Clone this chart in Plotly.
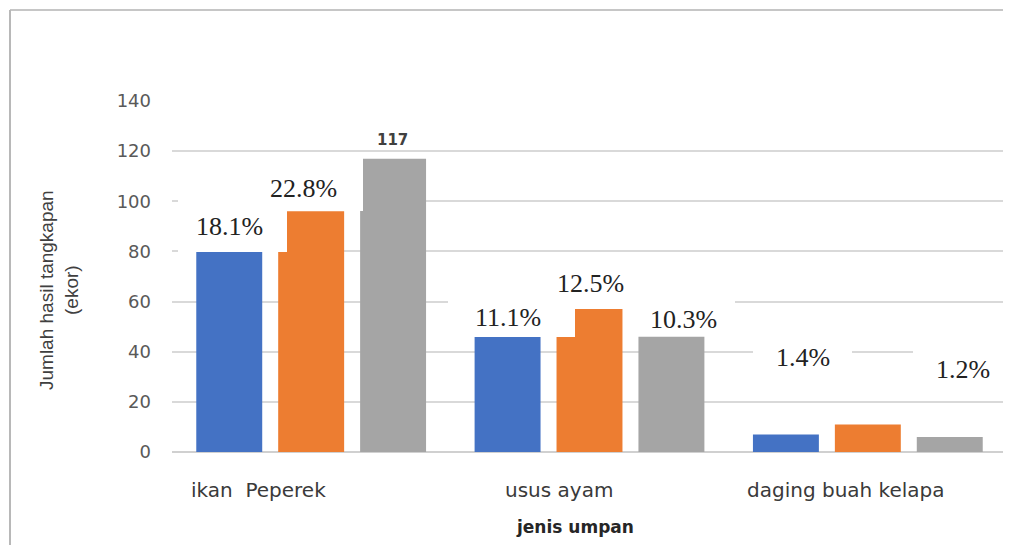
import plotly.graph_objects as go

# ---------------- data ----------------
categories = ["ikan\u00a0 Peperek", "usus ayam", "daging buah kelapa"]
blue_values = [80, 46, 7]
orange_values = [96, 57, 11]
gray_values = [117, 46, 6]
blue_labels = ["18.1%", "11.1%", "1.4%"]
orange_labels = ["22.8%", "12.5%", ""]
gray_labels = ["117", "10.3%", "1.2%"]
y_ticks = [0, 20, 40, 60, 80, 100, 120, 140]
y_title = "Jumlah hasil tangkapan<br>(ekor)"
x_title = "jenis umpan"

# ---------------- style ----------------
O = 8  # page body margin offset
W, H = 1011 - O, 545 - O
L, R, T, B = 172 - O, 4, 101 - O, 93
PW, PH = W - L - R, H - T - B
colors = ["#4472C4", "#ED7D31", "#A5A5A5"]
bargap = 0.117
bargroupgap = 0.195
slot = (1 - bargap) / 3

def px_x(px):
    return (px - O - L) / PW

def px_y(py):
    return (H - B - (py - O)) / PH

# label offsets (px) relative to bar center / bar top
label_offsets = [
    [(0, 25), (0, 19), (17, 77)],
    [(-8, 23), (1, 26), (0, 0)],
    [(-1, 19), (12, 17), (13, 67)],
]
cat_label_shift = [-53, -31, -22]

fig = go.Figure()
for k, (vals, name) in enumerate(zip([blue_values, orange_values, gray_values],
                                     ["s1", "s2", "s3"])):
    fig.add_trace(go.Bar(x=categories, y=vals, name=name,
                         marker=dict(color=colors[k], line=dict(width=0)),
                         hoverinfo="skip"))

# white masks (pasted label boxes in the original)
masks = [
    (178, 196, 287, 252),
    (287, 155, 363, 211),
    (448, 298, 575, 337),
    (575, 262, 638, 305),
    (638, 298, 735, 336),
    (753, 338, 852, 380),
    (913, 345, 1011, 392),
]
shapes = []
for (x0, y0, x1, y1) in masks:
    shapes.append(dict(type="rect", xref="paper", yref="paper",
                       x0=px_x(x0), x1=px_x(x1), y0=px_y(y1), y1=px_y(y0),
                       fillcolor="white", line=dict(width=0), layer="above"))
# outer frame (top and left)
shapes.append(dict(type="line", xref="paper", yref="paper",
                   x0=px_x(10), x1=px_x(1011), y0=px_y(10), y1=px_y(10),
                   line=dict(color="#c6c6c6", width=2)))
shapes.append(dict(type="line", xref="paper", yref="paper",
                   x0=px_x(10), x1=px_x(10), y0=px_y(10), y1=px_y(545),
                   line=dict(color="#b8b8b8", width=2)))

annotations = []
all_vals = [blue_values, orange_values, gray_values]
all_labels = [blue_labels, orange_labels, gray_labels]
for k in range(3):
    for i in range(3):
        txt = all_labels[k][i]
        if not txt:
            continue
        dx, dy = label_offsets[k][i]
        if txt.endswith("%"):
            font = dict(family="Liberation Serif", size=26, color="#222222")
        else:
            txt = "<b>" + txt + "</b>"
            font = dict(family="DejaVu Sans", size=15, color="#404040")
        annotations.append(dict(x=i + (k - 1) * slot, y=all_vals[k][i],
                                xref="x", yref="y", text=txt, showarrow=False,
                                xshift=dx, yshift=dy, xanchor="center",
                                yanchor="middle", font=font))
for i, c in enumerate(categories):
    annotations.append(dict(x=i, y=px_y(490), xref="x", yref="paper", text=c,
                            showarrow=False, xshift=cat_label_shift[i],
                            xanchor="center", yanchor="middle",
                            font=dict(family="DejaVu Sans", size=20,
                                      color="#3a3a3a")))
annotations.append(dict(x=px_x(575), y=px_y(527), xref="paper", yref="paper",
                        text="<b>" + x_title + "</b>", showarrow=False,
                        xanchor="center", yanchor="middle",
                        font=dict(family="DejaVu Sans", size=17,
                                  color="#262626")))
annotations.append(dict(x=px_x(59), y=px_y(290), xref="paper", yref="paper",
                        text=y_title, showarrow=False, textangle=-90,
                        xanchor="center", yanchor="middle",
                        font=dict(family="Liberation Sans", size=19,
                                  color="#404040")))

fig.update_layout(
    width=W, height=H,
    margin=dict(l=L, r=R, t=T, b=B, pad=0),
    paper_bgcolor="white", plot_bgcolor="white",
    barmode="group", bargap=bargap, bargroupgap=bargroupgap,
    showlegend=False,
    shapes=shapes, annotations=annotations,
    xaxis=dict(showticklabels=False, showgrid=False, zeroline=False,
               showline=False, ticks="", range=[-0.5, 2.5]),
    yaxis=dict(range=[0, 140], tickvals=y_ticks, showgrid=True,
               gridcolor="#d9d9d9", gridwidth=1.5, zeroline=True,
               zerolinecolor="#d0d0d0", zerolinewidth=1.5,
               showline=False, ticks="", ticklabelstandoff=20,
               tickfont=dict(family="DejaVu Sans", size=18, color="#595959")),
)

fig.write_html("out.html")
